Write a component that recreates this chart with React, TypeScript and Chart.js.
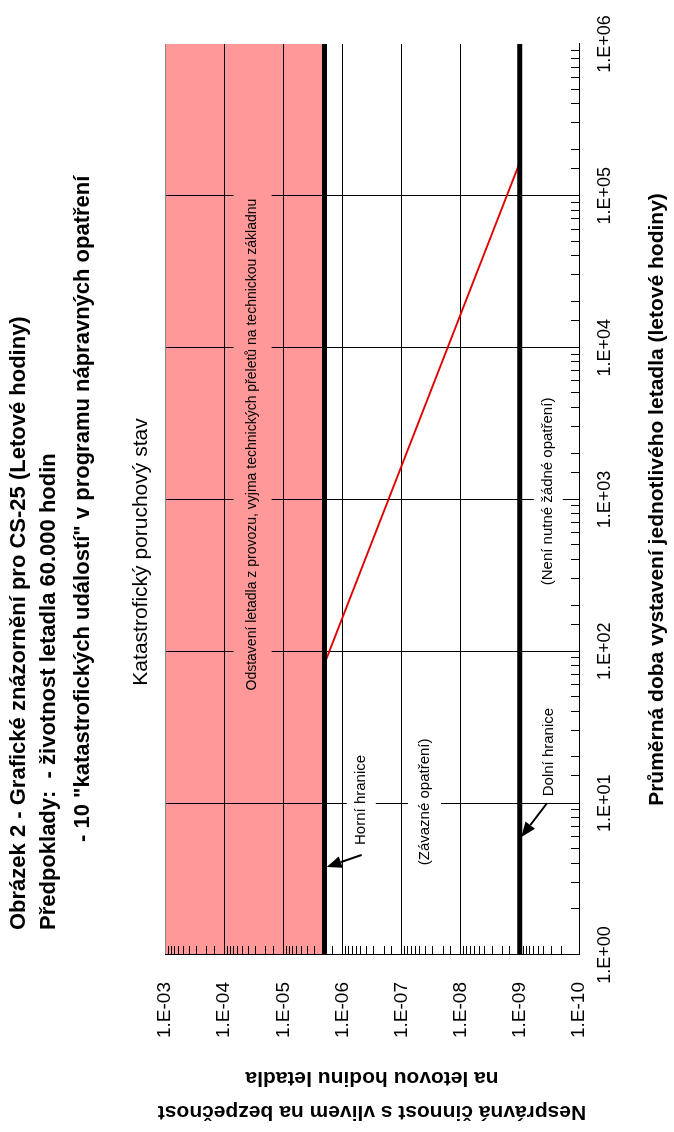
import React, { useEffect, useRef } from 'react';
import { Chart, registerables } from 'chart.js';

Chart.register(...registerables);

const FONT = '"Liberation Sans", Arial, Helvetica, sans-serif';

// The chart is drawn in its natural landscape orientation and the whole
// canvas is then turned 90° counter-clockwise, as in the reference.
const W = 1132;
const H = 674;

// ---- data -------------------------------------------------------------
const hourTickValues = [1, 10, 100, 1000, 10000, 100000, 1000000];
const hourTickLabels = ['1.E+00', '1.E+01', '1.E+02', '1.E+03', '1.E+04', '1.E+05', '1.E+06'];
const probTickValues = [1e-3, 1e-4, 1e-5, 1e-6, 1e-7, 1e-8, 1e-9, 1e-10];
const probTickLabels = ['1.E-03', '1.E-04', '1.E-05', '1.E-06', '1.E-07', '1.E-08', '1.E-09', '1.E-10'];

const upperLimitHours = [1, 1000000];
const upperLimitProb = [2e-6, 2e-6];
const lowerLimitHours = [1, 1000000];
const lowerLimitProb = [1e-9, 1e-9];
const fleetRiskHours = [83.3, 166667];
const fleetRiskProb = [2e-6, 1e-9];

const titleLines = [
  'Obrázek 2 - Grafické znázornění pro CS-25 (Letové hodiny)',
  'Předpoklady:  - životnost letadla 60.000 hodin',
  '- 10 "katastrofických událostí" v programu nápravných opatření',
];
const subtitleText = 'Katastrofický poruchový stav';
const xAxisTitle = 'Průměrná doba vystavení jednotlivého letadla (letové hodiny)';
const yAxisTitle = ['Nesprávná činnost s vlivem na bezpečnost', 'na letovou hodinu letadla'];

const noteTexts = [
  'Odstavení letadla z provozu, vyjma technických přeletů na technickou základnu',
  'Horní hranice',
  '(Závazné opatření)',
  'Dolní hranice',
  '(Není nutné žádné opatření)',
];
const noteHours = [2300, 10.5, 10.2, 21.7, 1130];
const noteProb = [3.3e-5, 4.8e-7, 4.1e-8, 3.2e-10, 3.3e-10];

const arrowFromHours = [4.56, 10.0];
const arrowFromProb = [4.75e-7, 3.47e-10];
const arrowToHours = [3.8, 5.98];
const arrowToProb = [1.85e-6, 9.5e-10];

// ---- styles ----------------------------------------------------------
const PINK = '#FF9999';
const RED = '#E00000';
const noteBg = [PINK, '#FFFFFF', '#FFFFFF', '#FFFFFF', '#FFFFFF'];
const noteSize = [14, 15, 15, 15, 15];
const notePadY = [12, 7, 9, 7, 7];

const sameDecade = (a: number, b: number) => Math.abs(Math.log10(a) - Math.log10(b)) < 1e-6;
const labelFor = (values: number[], labels: string[], v: number) => {
  const i = values.findIndex((t) => sameDecade(t, v));
  return i >= 0 ? labels[i] : '';
};
const isMajor = (values: number[], v: number) => values.some((t) => sameDecade(t, v));

const pts = (xs: number[], ys: number[]) => xs.map((x, i) => ({ x, y: ys[i] }));

const decorPlugin = {
  id: 'decor',
  afterDatasetsDraw(chart: any) {
    const { ctx, chartArea: a, scales } = chart;
    const x = scales.x;
    const y = scales.y;
    ctx.save();
    // inward minor ticks
    ctx.strokeStyle = '#000';
    ctx.lineWidth = 1;
    ctx.beginPath();
    x.ticks.forEach((t: any) => {
      if (isMajor(hourTickValues, t.value)) return;
      const px = Math.round(x.getPixelForValue(t.value)) + 0.5;
      ctx.moveTo(px, a.bottom);
      ctx.lineTo(px, a.bottom - 8);
    });
    y.ticks.forEach((t: any) => {
      if (isMajor(probTickValues, t.value)) return;
      const py = Math.round(y.getPixelForValue(t.value)) + 0.5;
      ctx.moveTo(a.left, py);
      ctx.lineTo(a.left + 9, py);
    });
    ctx.stroke();

    // notes with background boxes
    ctx.textAlign = 'center';
    ctx.textBaseline = 'middle';
    noteTexts.forEach((txt, i) => {
      ctx.font = `${noteSize[i]}px ${FONT}`;
      const cx = x.getPixelForValue(noteHours[i]);
      const cy = y.getPixelForValue(noteProb[i]);
      const w = ctx.measureText(txt).width + 8;
      const h = noteSize[i] + notePadY[i] * 2;
      ctx.fillStyle = noteBg[i];
      ctx.fillRect(cx - w / 2, cy - h / 2, w, h);
      ctx.fillStyle = '#000';
      ctx.fillText(txt, cx, cy);
    });

    // arrows
    arrowFromHours.forEach((_, i) => {
      const x0 = x.getPixelForValue(arrowFromHours[i]);
      const y0 = y.getPixelForValue(arrowFromProb[i]);
      const x1 = x.getPixelForValue(arrowToHours[i]);
      const y1 = y.getPixelForValue(arrowToProb[i]);
      const ang = Math.atan2(y1 - y0, x1 - x0);
      const len = 15;
      const half = 6;
      const bx = x1 - len * Math.cos(ang);
      const by = y1 - len * Math.sin(ang);
      ctx.strokeStyle = '#000';
      ctx.lineWidth = 2;
      ctx.beginPath();
      ctx.moveTo(x0, y0);
      ctx.lineTo(bx, by);
      ctx.stroke();
      ctx.fillStyle = '#000';
      ctx.beginPath();
      ctx.moveTo(x1, y1);
      ctx.lineTo(bx + half * Math.sin(ang), by - half * Math.cos(ang));
      ctx.lineTo(bx - half * Math.sin(ang), by + half * Math.cos(ang));
      ctx.closePath();
      ctx.fill();
    });
    ctx.restore();
  },
  afterDraw(chart: any) {
    const { ctx } = chart;
    ctx.save();
    ctx.fillStyle = '#000';
    ctx.textAlign = 'left';
    ctx.textBaseline = 'middle';
    ctx.font = `bold 22px ${FONT}`;
    ctx.fillText(titleLines[0], 202, 19);
    ctx.fillText(titleLines[1], 202, 49);
    ctx.fillText(titleLines[2], 290, 83);
    ctx.font = `21px ${FONT}`;
    ctx.textAlign = 'center';
    ctx.fillText(subtitleText, 580, 141);
    ctx.restore();
  },
};

export default function App() {
  const ref = useRef<HTMLCanvasElement | null>(null);

  useEffect(() => {
    document.documentElement.style.overflow = 'hidden';
    document.body.style.margin = '0';
    document.body.style.overflow = 'hidden';
    const canvas = ref.current;
    if (!canvas) return;
    const chart = new Chart(canvas, {
      type: 'scatter',
      data: {
        datasets: [
          {
            label: 'Horní hranice',
            data: pts(upperLimitHours, upperLimitProb),
            showLine: true,
            borderColor: '#000',
            borderWidth: 5,
            pointRadius: 0,
            fill: 'end',
            backgroundColor: PINK,
          },
          {
            label: 'Dolní hranice',
            data: pts(lowerLimitHours, lowerLimitProb),
            showLine: true,
            borderColor: '#000',
            borderWidth: 5,
            pointRadius: 0,
            fill: false,
          },
          {
            label: 'Flotila',
            data: pts(fleetRiskHours, fleetRiskProb),
            showLine: true,
            borderColor: RED,
            borderWidth: 2,
            pointRadius: 0,
            fill: false,
          },
        ],
      },
      options: {
        responsive: false,
        animation: false,
        events: [],
        layout: { padding: { top: 165, right: 44, left: 0, bottom: 0 } },
        plugins: {
          legend: { display: false },
          tooltip: { enabled: false },
          title: { display: false },
          filler: { propagate: false, drawTime: 'beforeDraw' } as any,
        },
        scales: {
          x: {
            type: 'logarithmic',
            position: 'bottom',
            min: 1,
            max: 1000000,
            afterFit: (s: any) => {
              s.height = 95;
            },
            grid: {
              drawTicks: false,
              lineWidth: 1,
              color: (c: any) =>
                c.tick && isMajor(hourTickValues, c.tick.value) && !sameDecade(c.tick.value, 1000000)
                  ? '#000'
                  : 'rgba(0,0,0,0)',
            },
            border: { display: true, color: '#000', width: 1 },
            ticks: {
              autoSkip: false,
              maxRotation: 0,
              minRotation: 0,
              padding: 15,
              color: '#000',
              font: { family: FONT, size: 18 },
              callback: (v: any) => labelFor(hourTickValues, hourTickLabels, Number(v)),
            },
            title: {
              display: true,
              text: xAxisTitle,
              color: '#000',
              font: { family: FONT, size: 21, weight: 'bold' },
              padding: { top: 0, bottom: 4 },
            },
          },
          y: {
            type: 'logarithmic',
            position: 'left',
            min: 1e-10,
            max: 1e-3,
            afterFit: (s: any) => {
              s.width = 177;
            },
            grid: {
              drawTicks: false,
              lineWidth: 1,
              color: (c: any) => {
                if (!c.tick || !isMajor(probTickValues, c.tick.value)) return 'rgba(0,0,0,0)';
                return sameDecade(c.tick.value, 1e-3) ? '#8a8a8a' : '#000';
              },
            },
            border: { display: true, color: '#000', width: 1 },
            ticks: {
              autoSkip: false,
              padding: 27,
              color: '#000',
              font: { family: FONT, size: 19 },
              callback: (v: any) => labelFor(probTickValues, probTickLabels, Number(v)),
            },
            title: {
              display: true,
              text: yAxisTitle,
              color: '#000',
              font: { family: FONT, size: 21, weight: 'bold', lineHeight: 34 / 21 },
              padding: { top: 3, bottom: 0 },
            },
          },
        },
      },
      plugins: [decorPlugin],
    } as any);
    return () => chart.destroy();
  }, []);

  return (
    <div
      style={{
        position: 'absolute',
        left: 0,
        top: 0,
        width: W,
        height: H,
        background: '#fff',
        transformOrigin: '0 0',
        transform: `translate(0px, ${W}px) rotate(-90deg)`,
      }}
    >
      <canvas ref={ref} width={W} height={H} style={{ display: 'block', width: W, height: H }} />
    </div>
  );
}
